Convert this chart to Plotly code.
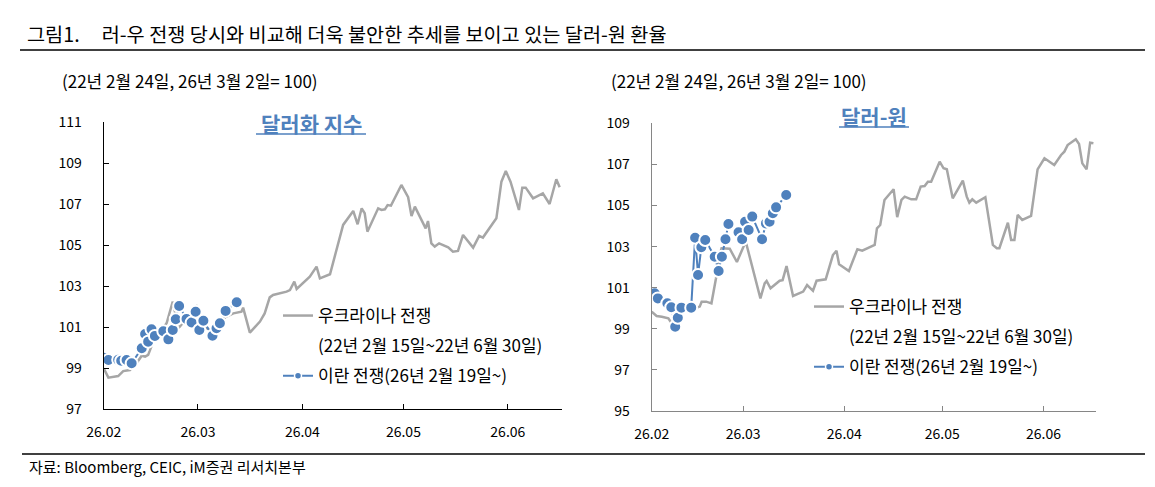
import plotly.graph_objects as go

W, H = 1155, 487
FONT = "Noto Sans CJK KR"
GRAY = "#A6A6A6"
BLUE = "#4F81BD"

# x = days from 26.02.01 (axis runs 26.02 .. mid 26.06)
tick_days = [0, 28, 59, 89, 120]
tick_labels = ["26.02", "26.03", "26.04", "26.05", "26.06"]

# ---- 달러화 지수 (left) ----
dxy_ukr_day = [0, 1.4, 4.3, 5.8, 7.8, 9.6, 11.3, 12.3, 13.2, 14.2, 15.2, 16.7, 18.7, 20.5, 21.5,
               22.6, 24.6, 25.9, 27.6, 28.6, 30.1, 32.1, 33.9, 36.3, 38.5, 40.9, 41.4, 43.4, 46.4,
               47.8, 49.3, 50.3, 54.3, 55.3, 56.6, 57.3, 61.2, 63.2, 64.2, 67.2, 71.1, 74.1, 75.4,
               76.6, 77.5, 78.3, 81.5, 82.5, 83.5, 84.3, 85.3, 88.4, 90.4, 91.4, 92.4, 95.6, 96.3,
               97.3, 98.3, 99.6, 102.3, 103.7, 105.2, 106.7, 109.7, 111.5, 112.6, 116.6, 118.1,
               119.4, 120.8, 123.3, 124.3, 125.3, 127.5, 130.4, 132.4, 134.4, 135.4]
dxy_ukr_val = [98.99, 98.53, 98.61, 98.85, 98.90, 99.20, 99.60, 99.56, 99.64, 100.04, 100.50,
               100.70, 101.20, 102.24, 101.50, 101.02, 101.43, 101.70, 102.00, 101.60, 101.00,
               100.80, 101.20, 101.50, 101.67, 101.75, 101.95, 100.73, 101.27, 101.67, 102.45,
               102.57, 102.73, 102.81, 103.22, 102.86, 103.46, 103.95, 103.38, 103.58, 105.99,
               106.67, 106.02, 106.80, 106.56, 105.66, 106.80, 106.72, 106.75, 106.96, 106.93,
               107.94, 107.34, 106.42, 106.88, 105.82, 106.18, 105.09, 104.93, 105.09, 104.89,
               104.68, 104.72, 105.50, 104.88, 105.45, 105.37, 106.31, 108.10, 108.62, 108.10,
               106.72, 107.81, 107.81, 107.29, 107.53, 107.01, 108.22, 107.83]
dxy_iran_day = [0, 1.4, 4.3, 5.2, 6.8, 8.3, 11.3, 12.3, 13.2, 14.2, 15.2, 17.7, 19.2, 20.5,
                21.4, 22.4, 24.6, 26.1, 27.3, 28.4, 29.6, 32.3, 33.5, 34.5, 36.2, 39.5]
dxy_iran_val = [99.50, 99.39, 99.40, 99.36, 99.39, 99.23, 99.97, 100.66, 100.29, 100.89, 100.57,
                100.80, 100.40, 100.86, 101.38, 102.03, 101.40, 101.22, 101.75, 100.86, 101.31,
                100.58, 100.94, 101.19, 101.79, 102.21]

# ---- 달러-원 (right) ----
krw_ukr_day = [0, 1.5, 3.1, 5.1, 6.1, 7.4, 9.0, 10.5, 11.7, 13.3, 14.7, 15.3, 16.7, 18.3, 19.7,
               20.8, 21.4, 23.9, 26.1, 28.8, 33.3, 34.6, 35.2, 36.4, 39.2, 40.1, 41.3, 43.3, 46.4,
               47.6, 49.4, 50.5, 53.3, 55.5, 56.6, 57.4, 60.4, 63.0, 64.5, 68.3, 69.0, 70.0, 71.3,
               74.1, 75.2, 76.5, 77.5, 79.5, 81.0, 82.4, 83.6, 84.6, 85.6, 88.2, 89.4, 90.4, 92.2,
               95.3, 96.5, 97.3, 98.2, 99.4, 102.2, 103.2, 104.5, 105.7, 106.5, 109.1, 110.1,
               111.1, 112.1, 113.5, 116.2, 118.2, 120.3, 123.3, 125.4, 126.4, 127.4, 129.9, 130.9,
               131.9, 133.2, 134.3, 135.3]
krw_ukr_val = [99.83, 99.62, 99.59, 99.51, 99.27, 99.35, 99.70, 99.95, 100.00, 100.00, 100.08,
               100.32, 100.32, 100.24, 101.46, 102.60, 102.92, 102.90, 102.25, 103.25, 100.48,
               101.21, 101.33, 100.97, 101.34, 101.37, 102.05, 100.60, 100.81, 101.13, 100.85,
               101.34, 101.41, 102.59, 102.80, 102.14, 101.81, 102.87, 102.80, 103.08, 103.89,
               104.05, 105.27, 105.79, 104.43, 105.27, 105.43, 105.30, 105.30, 105.92, 105.95,
               106.16, 106.16, 107.13, 106.81, 106.76, 105.35, 106.21, 105.43, 105.14, 105.30,
               105.14, 105.40, 104.46, 103.08, 102.92, 102.92, 104.16, 103.32, 103.32, 104.54,
               104.30, 104.49, 106.76, 107.30, 106.97, 107.46, 107.62, 107.94, 108.22, 107.99,
               107.05, 106.76, 108.06, 108.03]
krw_iran_day = [0.9, 1.9, 4.8, 6.0, 7.2, 8.0, 9.1, 12.1, 13.3, 14.2, 15.2, 16.4, 19.3, 20.5,
                21.5, 22.6, 23.5, 26.6, 27.7, 28.6, 29.7, 30.8, 33.8, 35.0, 36.1, 37.1, 38.1, 41.2]
krw_iran_val = [100.73, 100.48, 100.24, 100.05, 99.10, 99.54, 100.03, 100.03, 103.43, 101.62,
                102.97, 103.32, 102.51, 101.81, 102.51, 103.36, 104.10, 103.70, 103.36, 104.21,
                103.81, 104.46, 103.36, 104.13, 104.21, 104.62, 104.91, 105.51]

name_ukr = "우크라이나 전쟁"
name_ukr2 = "(22년 2월 15일~22년 6월 30일)"
name_iran = "이란 전쟁(26년 2월 19일~)"

fig = go.Figure()


def add_panel(xa, ya, leg, ud, uv, idy, iv):
    fig.add_trace(go.Scatter(x=ud, y=uv, mode="lines", line=dict(color=GRAY, width=2.5),
                             name=name_ukr, legend=leg, legendgroup=leg + "a",
                             xaxis=xa, yaxis=ya, hoverinfo="skip"))
    fig.add_trace(go.Scatter(x=[None], y=[None], mode="lines",
                             line=dict(color="rgba(0,0,0,0)", width=0),
                             name=name_ukr2, legend=leg, legendgroup=leg + "b",
                             xaxis=xa, yaxis=ya))
    fig.add_trace(go.Scatter(x=idy, y=iv, mode="lines+markers",
                             line=dict(color=BLUE, width=2),
                             marker=dict(size=12, color=BLUE, line=dict(color="white", width=2)),
                             showlegend=False, xaxis=xa, yaxis=ya, hoverinfo="skip"))
    fig.add_trace(go.Scatter(x=[None], y=[None], mode="lines+markers",
                             line=dict(color=BLUE, width=2),
                             marker=dict(size=7, color=BLUE, line=dict(color="white", width=1.5)),
                             name=name_iran, legend=leg, legendgroup=leg + "c",
                             xaxis=xa, yaxis=ya))


add_panel("x", "y", "legend", dxy_ukr_day, dxy_ukr_val, dxy_iran_day, dxy_iran_val)
add_panel("x2", "y2", "legend2", krw_ukr_day, krw_ukr_val, krw_iran_day, krw_iran_val)


def px_x(p):
    return p / W


def px_y(p):
    return 1 - p / H


tickfont = dict(family=FONT, size=14, color="#000000")
common_x = dict(range=[0, 136], tickmode="array", tickvals=tick_days, ticktext=tick_labels,
                ticks="inside", ticklen=5, showline=True, linewidth=1, showgrid=False,
                zeroline=False, tickfont=tickfont, ticklabelstandoff=10, fixedrange=True,
                automargin=False)
common_y = dict(dtick=2, ticks="inside", ticklen=5, showline=True, linewidth=1, showgrid=False,
                zeroline=False, tickfont=tickfont, ticklabelstandoff=18, fixedrange=True,
                automargin=False, tickmode="linear")

legfont = dict(family=FONT, size=17, color="#000000")
fig.update_layout(
    width=W, height=H, margin=dict(l=0, r=0, t=0, b=0, autoexpand=False),
    paper_bgcolor="white", plot_bgcolor="white",
    font=dict(family=FONT, color="#000000"),
    xaxis=dict(domain=[px_x(103.7), px_x(561.7)], anchor="y", linecolor="#000000",
               tickcolor="#000000", **common_x),
    yaxis=dict(domain=[px_y(409), px_y(122.3)], anchor="x", range=[97, 111], tick0=97,
               linecolor="#000000", tickcolor="#000000", **common_y),
    xaxis2=dict(domain=[px_x(651.7), px_x(1095.7)], anchor="y2", linecolor="#868686",
                tickcolor="#868686", **common_x),
    yaxis2=dict(domain=[px_y(411), px_y(123.3)], anchor="x2", range=[95, 109], tick0=95,
                linecolor="#868686", tickcolor="#868686", **common_y),
    legend=dict(x=px_x(278), y=px_y(298), xanchor="left", yanchor="top",
                bgcolor="rgba(0,0,0,0)", font=legfont,
                traceorder="grouped", tracegroupgap=5, itemclick=False, itemdoubleclick=False),
    legend2=dict(x=px_x(809), y=px_y(289), xanchor="left", yanchor="top",
                 bgcolor="rgba(0,0,0,0)", font=legfont,
                 traceorder="grouped", tracegroupgap=5, itemclick=False, itemdoubleclick=False),
    showlegend=True,
)

nb = "\u00a0"
ann = [
    dict(text="그림1." + nb * 5 + "러-우 전쟁 당시와 비교해 더욱 불안한 추세를 보이고 있는 달러-원 환율",
         x=px_x(25), y=px_y(33), xanchor="left", yanchor="middle",
         font=dict(family=FONT, size=19.7, color="#000000")),
    dict(text="(22년 2월 24일, 26년 3월 2일= 100)", x=px_x(60), y=px_y(80),
         xanchor="left", yanchor="middle", font=dict(family=FONT, size=17, color="#000000")),
    dict(text="(22년 2월 24일, 26년 3월 2일= 100)", x=px_x(609), y=px_y(80),
         xanchor="left", yanchor="middle", font=dict(family=FONT, size=17, color="#000000")),
    dict(text="<b>달러화 지수</b>", x=px_x(311), y=px_y(123), xanchor="center", yanchor="middle",
         font=dict(family=FONT, size=21, color=BLUE)),
    dict(text="<b>달러-원</b>", x=px_x(874), y=px_y(116), xanchor="center", yanchor="middle",
         font=dict(family=FONT, size=21, color=BLUE)),
    dict(text="자료: Bloomberg, CEIC, iM증권 리서치본부", x=px_x(27), y=px_y(466),
         xanchor="left", yanchor="middle", font=dict(family=FONT, size=15, color="#000000")),
]
for a in ann:
    a.update(xref="paper", yref="paper", showarrow=False)
fig.update_layout(annotations=ann)

shapes = [
    dict(type="line", x0=px_x(20), x1=px_x(1145), y0=px_y(50), y1=px_y(50),
         line=dict(color="#000000", width=1.5)),
    dict(type="line", x0=px_x(22), x1=px_x(1145), y0=px_y(454), y1=px_y(454),
         line=dict(color="#000000", width=1.5)),
    dict(type="line", x0=px_x(256), x1=px_x(366), y0=px_y(134), y1=px_y(134),
         line=dict(color=BLUE, width=1.5)),
    dict(type="line", x0=px_x(839), x1=px_x(909), y0=px_y(127), y1=px_y(127),
         line=dict(color=BLUE, width=1.5)),
]
for s in shapes:
    s.update(xref="paper", yref="paper")
fig.update_layout(shapes=shapes)

fig.write_html("out.html")
